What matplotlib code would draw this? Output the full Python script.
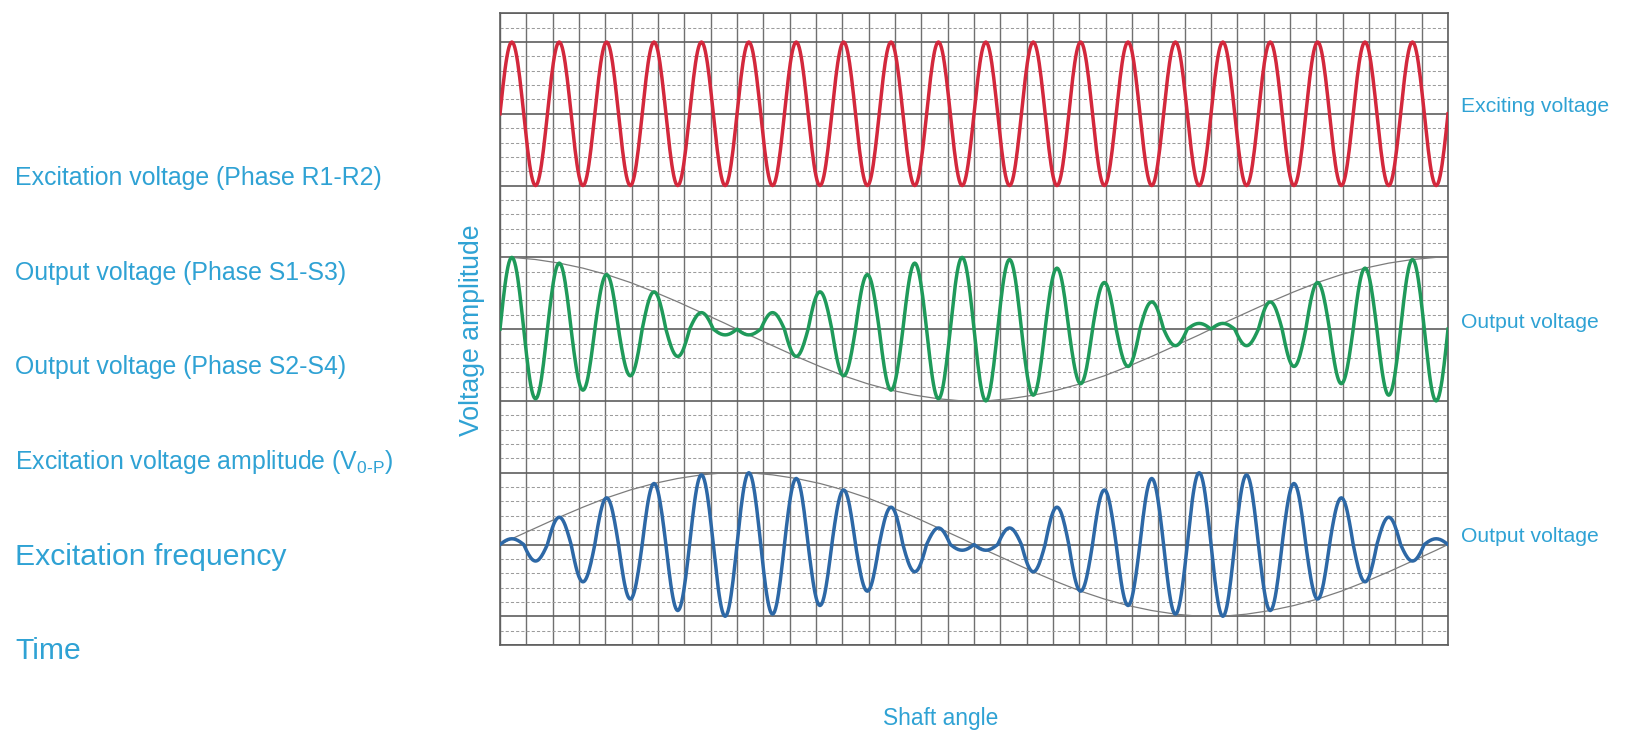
import numpy as np
import matplotlib
matplotlib.use("Agg")
import matplotlib.pyplot as plt

plt.rcParams['font.family'] = ['Liberation Sans', 'DejaVu Sans']
plt.rcParams['mathtext.fontset'] = 'custom'
plt.rcParams['mathtext.rm'] = 'Liberation Sans'

# ---------------- data ----------------
shaft_range = (0, 360)          # shaft angle, degrees (36 grid divisions of 10 deg)
amplitude_units = 5             # peak amplitude in minor grid units
red_center, green_center, blue_center = 37, 22, 7   # trace centre lines (grid units from bottom)

# signed extremum of each half-cycle (40 half cycles = 20 excitation cycles)
red_peaks = [1.00, -1.00] * 20
green_peaks = [1.00, -0.97, 0.92, -0.85, 0.76, -0.65, 0.52, -0.38, 0.23, -0.08,
               -0.08, 0.23, -0.38, 0.52, -0.65, 0.76, -0.85, 0.92, -0.97, 1.00,
               -1.00, 0.97, -0.92, 0.85, -0.76, 0.65, -0.52, 0.38, -0.23, 0.08,
               0.08, -0.23, 0.38, -0.52, 0.65, -0.76, 0.85, -0.92, 0.97, -1.00]
blue_peaks = [0.08, -0.23, 0.38, -0.52, 0.65, -0.76, 0.85, -0.92, 0.97, -1.00,
              1.00, -0.97, 0.92, -0.85, 0.76, -0.65, 0.52, -0.38, 0.23, -0.08,
              -0.08, 0.23, -0.38, 0.52, -0.65, 0.76, -0.85, 0.92, -0.97, 1.00,
              -1.00, 0.97, -0.92, 0.85, -0.76, 0.65, -0.52, 0.38, -0.23, 0.08]
green_env_ends = [1.00, 1.00]   # envelope value at 0 and 360 deg
blue_env_ends = [0.00, 0.00]

left_labels = ["Excitation voltage (Phase R1-R2)",
               "Output voltage (Phase S1-S3)",
               "Output voltage (Phase S2-S4)",
               r"Excitation voltage amplitude (V$_\mathregular{0\text{-}P}$)",
               "Excitation frequency",
               "Time"]
right_labels = ["Exciting voltage", "Output voltage", "Output voltage"]

# ---------------- figure ----------------
W, H = 1628, 736
fig = plt.figure(figsize=(W / 100, H / 100), dpi=100)
fig.patch.set_facecolor('white')
ax = fig.add_axes([500 / W, 1 - 645 / H, 948 / W, (645 - 13.3) / H])
ax.set_xlim(*shaft_range)
ax.set_ylim(0, 44)

# graph-paper grid
major_y = [0, 2, 7, 12, 17, 22, 27, 32, 37, 42, 44]
minor_y = [v for v in range(0, 45) if v not in major_y]
ax.set_xticks(np.arange(0, 361, 10))
ax.set_yticks(major_y)
ax.set_yticks(minor_y, minor=True)
ax.grid(axis='x', which='major', color='#707070', lw=1.0, zorder=1)
ax.grid(axis='y', which='major', color='#5e5e5e', lw=1.2, zorder=1)
ax.grid(axis='y', which='minor', color='#9c9c9c', lw=0.75, ls=(0, (3, 2)), zorder=1)
ax.tick_params(which='both', length=0, labelbottom=False, labelleft=False)
for sp in ax.spines.values():
    sp.set_color('#5e5e5e')
    sp.set_linewidth(1.2)


def trace(peaks, center):
    n = len(peaks)
    half = (shaft_range[1] - shaft_range[0]) / n
    s = np.linspace(0, 1, 25)
    xs, ys = [], []
    for j, p in enumerate(peaks):
        xs.append(shaft_range[0] + half * (j + s))
        ys.append(center + amplitude_units * p * np.sin(np.pi * s))
    return np.concatenate(xs), np.concatenate(ys)


def envelope(peaks, ends, center):
    n = len(peaks)
    half = (shaft_range[1] - shaft_range[0]) / n
    alt = np.array([1 if j % 2 == 0 else -1 for j in range(n)])
    xe = np.concatenate([[shaft_range[0]], half * (np.arange(n) + 0.5), [shaft_range[1]]])
    ye = np.concatenate([[ends[0]], np.array(peaks) * alt, [ends[1]]])
    return xe, center + amplitude_units * ye


for peaks, ends, c in [(green_peaks, green_env_ends, green_center),
                       (blue_peaks, blue_env_ends, blue_center)]:
    xe, ye = envelope(peaks, ends, c)
    ax.plot(xe, ye, color='#7c7c7c', lw=0.9, zorder=2)

for peaks, c, col in [(red_peaks, red_center, '#d3283c'),
                      (green_peaks, green_center, '#1f9a5a'),
                      (blue_peaks, blue_center, '#2d68a6')]:
    x, y = trace(peaks, c)
    ax.plot(x, y, color=col, lw=2.5, zorder=3, solid_joinstyle='round')

# ---------------- text ----------------
txt_col = '#2fa2d4'
left_y = [178, 273, 367, 462, 557, 651]
left_fs = [17.9, 17.9, 17.9, 17.9, 21.7, 21.7]
for lab, yy, fs in zip(left_labels, left_y, left_fs):
    fig.text(15 / W, 1 - yy / H, lab, ha='left', va='center', fontsize=fs, color=txt_col)

for lab, yy in zip(right_labels, [106, 322, 537]):
    fig.text(1461 / W, 1 - yy / H, lab, ha='left', va='center', fontsize=15.2, color=txt_col)

fig.text(472 / W, 1 - 330 / H, "Voltage amplitude", rotation=90, ha='center', va='center',
         fontsize=19.2, color=txt_col)
fig.text(941 / W, 1 - 719 / H, "Shaft angle", ha='center', va='center',
         fontsize=16.4, color=txt_col)

fig.savefig("out.png", dpi=100, facecolor='white')
